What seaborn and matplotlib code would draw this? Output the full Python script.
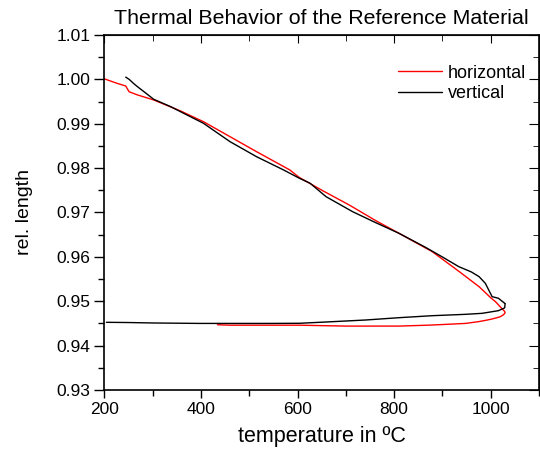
import matplotlib
matplotlib.use("Agg")
import matplotlib.pyplot as plt
import seaborn as sns
import pandas as pd
from matplotlib.ticker import MultipleLocator, FormatStrFormatter

# horizontal sample: heating then cooling branch
hor_temp = [200, 226, 244, 251, 268, 302, 357, 405, 460, 515, 584, 603, 653, 707, 762,
            810, 879, 935, 976, 1000, 1010, 1022, 1029, 1030,
            1027, 1020, 1010, 1003, 990, 975, 948, 910, 870, 810, 750, 700, 650, 604, 550, 500, 460, 434]
hor_len = [1.0001, 0.9991, 0.9985, 0.9972, 0.9965, 0.99535, 0.9929, 0.99046, 0.98708, 0.9837,
           0.97958, 0.97793, 0.97485, 0.97169, 0.96816, 0.96531, 0.96117, 0.95667, 0.95328,
           0.9508, 0.9499, 0.9485, 0.9477, 0.9474,
           0.9470, 0.9465, 0.9462, 0.9460, 0.9457, 0.9454, 0.9450, 0.9448, 0.9446, 0.9444,
           0.9444, 0.9444, 0.9445, 0.9446, 0.9446, 0.9446, 0.9446, 0.9447]

# vertical sample: heating then cooling branch
ver_temp = [244, 251, 261, 270, 282, 302, 337, 364, 405, 460, 515, 571, 604, 626, 659, 714,
            760, 810, 865, 899, 934, 960, 976, 989, 1003, 1016, 1029, 1030,
            1029, 1016, 982, 948, 879, 810, 741, 672, 604, 540, 500, 433, 397, 300, 250, 204]
ver_len = [1.0005, 1.0000, 0.9990, 0.9982, 0.9972, 0.9955, 0.99385, 0.99235, 0.9901, 0.98596,
           0.98257, 0.97958, 0.9777, 0.97658, 0.97356, 0.97018, 0.9678, 0.96531, 0.96215,
           0.96004, 0.95779, 0.9566, 0.95554, 0.95404, 0.95103, 0.95067, 0.94954, 0.9495,
           0.9485, 0.94787, 0.94727, 0.94705, 0.94674, 0.94629, 0.94577, 0.94539, 0.94503,
           0.9450, 0.9450, 0.9450, 0.9450, 0.9451, 0.9452, 0.94525]

series_names = ["horizontal", "vertical"]
series_colors = ["#ff0000", "#000000"]

df = pd.concat([
    pd.DataFrame({"temp": hor_temp, "len": hor_len, "series": series_names[0]}),
    pd.DataFrame({"temp": ver_temp, "len": ver_len, "series": series_names[1]}),
])

sns.set_style("ticks")
plt.rcParams['font.family'] = ['Liberation Sans', 'DejaVu Sans']
plt.rcParams['text.color'] = 'black'
plt.rcParams['axes.labelcolor'] = 'black'
plt.rcParams['xtick.color'] = 'black'
plt.rcParams['ytick.color'] = 'black'

fig = plt.figure(figsize=(5.40, 4.54), dpi=100)
ax = fig.add_axes([0.1935, 0.141, 0.8045, 0.782])

sns.lineplot(data=df, x="temp", y="len", hue="series", palette=series_colors,
             units="series", estimator=None, sort=False, linewidth=1.0, ax=ax)

ax.set_xlim(200, 1100)
ax.set_ylim(0.93, 1.01)
ax.xaxis.set_major_locator(MultipleLocator(200))
ax.xaxis.set_minor_locator(MultipleLocator(100))
ax.yaxis.set_major_locator(MultipleLocator(0.01))
ax.yaxis.set_minor_locator(MultipleLocator(0.005))
ax.yaxis.set_major_formatter(FormatStrFormatter('%.2f'))

ax.tick_params(which='major', direction='out', length=6, width=1, labelsize=12.5, colors='black', pad=3)
ax.tick_params(which='minor', direction='out', length=4, width=1)
ax.tick_params(axis='y', which='major', length=7)

for s in ax.spines.values():
    s.set_visible(True)
    s.set_linewidth(1.2)
    s.set_color('black')

top = ax.secondary_xaxis('top')
top.xaxis.set_major_locator(MultipleLocator(200))
top.xaxis.set_minor_locator(MultipleLocator(100))
top.tick_params(which='major', direction='in', length=6, labeltop=False)
top.tick_params(which='minor', direction='in', length=4)
right = ax.secondary_yaxis('right')
right.yaxis.set_major_locator(MultipleLocator(0.01))
right.yaxis.set_minor_locator(MultipleLocator(0.005))
right.tick_params(which='major', direction='in', length=7, labelright=False)
right.tick_params(which='minor', direction='in', length=4)

ax.set_xlabel("temperature in ºC", fontsize=15.5, labelpad=6)
ax.set_ylabel("rel. length", fontsize=14, labelpad=17)
ax.set_title("Thermal Behavior of the Reference Material", fontsize=15.4, y=1.031, pad=0)

leg = ax.legend(loc='upper right', bbox_to_anchor=(1.0, 0.952), frameon=False, fontsize=13,
                handlelength=2.4, handletextpad=0.35, labelspacing=0.2, borderaxespad=0.3)
for line in leg.get_lines():
    line.set_linewidth(1.0)

fig.savefig("out.png", dpi=100)
